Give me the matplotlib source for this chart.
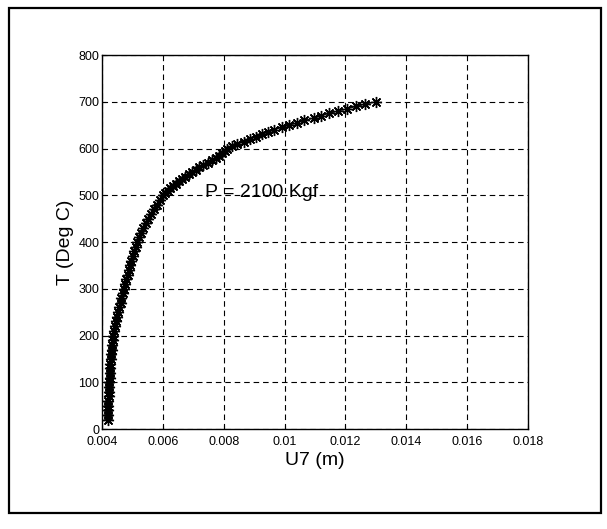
import numpy as np
import matplotlib.pyplot as plt
from matplotlib.patches import Rectangle

plt.rcParams['font.family'] = ['Liberation Sans', 'DejaVu Sans']

# temperature (Deg C) and displacement U7 (m)
T = [20, 30, 40, 50, 60, 70, 80, 90, 100, 110, 120, 130, 140, 150, 160, 170, 180, 190,
     200, 210, 220, 230, 240, 250, 260, 270, 280, 290, 300, 310, 320, 330, 340, 350,
     360, 370, 380, 390, 400, 410, 420, 430, 440, 450, 460, 470, 480, 490, 500,
     505, 510, 515, 520, 525, 530, 535, 540, 545, 550, 555, 560, 565, 570, 575, 580,
     585, 590, 595, 600, 605, 610, 615, 620, 625, 630, 635, 640, 645, 650, 655, 660,
     665, 670, 675, 680, 685, 690, 695, 700]
U7 = [0.00419, 0.00420, 0.00420, 0.00421, 0.00421, 0.00422, 0.00422, 0.00423, 0.00424,
      0.00425, 0.00426, 0.00427, 0.00428, 0.00430, 0.00431, 0.00432, 0.00434, 0.00435,
      0.00437, 0.00440, 0.00443, 0.00446, 0.00450, 0.00454, 0.00457, 0.00461, 0.00464,
      0.00468, 0.00472, 0.00476, 0.00480, 0.00484, 0.00488, 0.00492, 0.00496, 0.00501,
      0.00506, 0.00511, 0.00516, 0.00522, 0.00529, 0.00536, 0.00544, 0.00552, 0.00561,
      0.00570, 0.00580, 0.00590, 0.00600, 0.00608, 0.00616, 0.00624, 0.00633, 0.00643,
      0.00653, 0.00663, 0.00674, 0.00685, 0.00695, 0.00708, 0.00720, 0.00733, 0.00747,
      0.00760, 0.00773, 0.00785, 0.00795, 0.00803, 0.00812, 0.00828, 0.00845, 0.00865,
      0.00885, 0.00905, 0.00925, 0.00945, 0.00965, 0.00990, 0.01015, 0.01040, 0.01065,
      0.01095, 0.01120, 0.01145, 0.01175, 0.01205, 0.01235, 0.01265, 0.01300]

xticks = [0.004, 0.006, 0.008, 0.010, 0.012, 0.014, 0.016, 0.018]
xlabels = ['0.004', '0.006', '0.008', '0.01', '0.012', '0.014', '0.016', '0.018']
yticks = [0, 100, 200, 300, 400, 500, 600, 700, 800]

fig = plt.figure(figsize=(6.07, 5.29), dpi=100)
ax = fig.add_axes([0.168, 0.189, 0.702, 0.707])

# outer frame around the whole figure
fig.patches.append(Rectangle((0.015, 0.030), 0.975, 0.955, transform=fig.transFigure,
                             fill=False, edgecolor='black', linewidth=1.6))

ax.plot(U7, T, color='black', linewidth=0.8, marker=(8, 2, 0), markersize=8,
        markeredgewidth=1.0, markeredgecolor='black')

ax.set_xlim(0.004, 0.018)
ax.set_ylim(0, 800)
ax.set_xticks(xticks)
ax.set_xticklabels(xlabels)
ax.set_yticks(yticks)
ax.tick_params(direction='in', length=3, labelsize=9)
ax.tick_params(axis='x', pad=5)
ax.tick_params(axis='y', pad=2)
ax.grid(True, color='black', linestyle=(0, (5, 3.5)), linewidth=0.8)
for s in ax.spines.values():
    s.set_linewidth(1.0)

ax.set_xlabel('U7 (m)', fontsize=14, labelpad=3)
ax.set_ylabel('T (Deg C)', fontsize=14, labelpad=3)

ax.text(0.0074, 505, 'P = 2100 Kgf', fontsize=14, va='center', ha='left')

fig.savefig('out.png', dpi=100)
